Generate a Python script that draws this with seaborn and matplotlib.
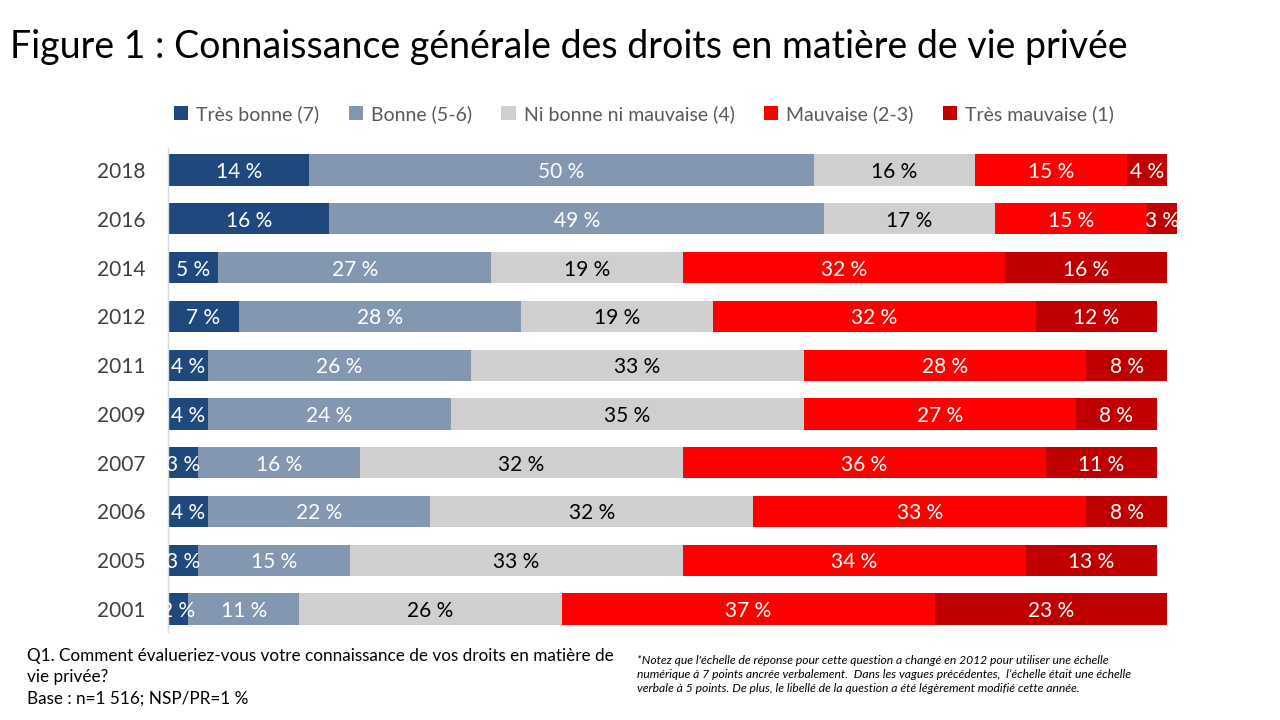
import matplotlib
matplotlib.use('Agg')
import matplotlib.pyplot as plt
import pandas as pd
import seaborn as sns
from matplotlib.patches import Patch

sns.set_style('white')
plt.rcParams['font.family'] = ['Lato', 'DejaVu Sans']

# Data (percent)
years = ['2018', '2016', '2014', '2012', '2011', '2009', '2007', '2006', '2005', '2001']
tres_bonne = [14, 16, 5, 7, 4, 4, 3, 4, 3, 2]
bonne = [50, 49, 27, 28, 26, 24, 16, 22, 15, 11]
ni_bonne = [16, 17, 19, 19, 33, 35, 32, 32, 33, 26]
mauvaise = [15, 15, 32, 32, 28, 27, 36, 33, 34, 37]
tres_mauvaise = [4, 3, 16, 12, 8, 8, 11, 8, 13, 23]

categories = ['Très bonne (7)', 'Bonne (5-6)', 'Ni bonne ni mauvaise (4)',
              'Mauvaise (2-3)', 'Très mauvaise (1)']
colors = ['#1F497D', '#8497B0', '#D0CECE', '#FF0000', '#C00000']
text_colors = ['white', 'white', 'black', 'white', 'white']

df = pd.DataFrame({'annee': years,
                   categories[0]: tres_bonne,
                   categories[1]: bonne,
                   categories[2]: ni_bonne,
                   categories[3]: mauvaise,
                   categories[4]: tres_mauvaise})
cum = df[categories].cumsum(axis=1)
cum['annee'] = df['annee']

fig = plt.figure(figsize=(12.8, 7.2), dpi=100)
ax = fig.add_axes([168 / 1280, 1 - 632 / 720, 1009 / 1280, 484 / 720])

# stacked look: draw cumulative totals from largest to smallest
for cat, col in reversed(list(zip(categories, colors))):
    sns.barplot(data=cum, x=cat, y='annee', order=years, color=col,
                saturation=1, width=0.64, linewidth=0, orient='h', ax=ax)

# segment labels
for i in range(len(years)):
    for cat, tc in zip(categories, text_colors):
        v = df.loc[i, cat]
        center = cum.loc[i, cat] - v / 2
        ax.text(center, i, f'{v} %', ha='center', va='center_baseline', color=tc,
                fontsize=15, clip_on=True)

ax.set_xlim(0, 100)
ax.set_ylim(9.47, -0.45)
ax.set_xlabel('')
ax.set_ylabel('')
ax.set_xticks([])
ax.tick_params(axis='y', length=0, labelsize=15, labelcolor='#404040', pad=16)
for s in ['top', 'right', 'bottom']:
    ax.spines[s].set_visible(False)
ax.spines['left'].set_color('#D9D9D9')
ax.spines['left'].set_linewidth(1)

handles = [Patch(facecolor=c, edgecolor='none') for c in colors]
fig.legend(handles, categories, loc='center', bbox_to_anchor=(0.503, 1 - 114 / 720),
           ncol=5, frameon=False, fontsize=14, labelcolor='#595959',
           handlelength=0.75, handleheight=0.75, handletextpad=0.4, columnspacing=1.5)

fig.text(10 / 1280, 1 - 47 / 720,
         'Figure 1 : Connaissance générale des droits en matière de vie privée',
         fontsize=27, ha='left', va='center', color='black')

fig.text(27 / 1280, 1 - 648 / 720,
         'Q1. Comment évalueriez-vous votre connaissance de vos droits en matière de\n'
         'vie privée?\nBase : n=1 516; NSP/PR=1 %',
         fontsize=12.3, ha='left', va='top', color='black', linespacing=1.42)

fig.text(637 / 1280, 1 - 655 / 720,
         "*Notez que l'échelle de réponse pour cette question a changé en 2012 pour utiliser une échelle\n"
         "numérique à 7 points ancrée verbalement.  Dans les vagues précédentes,  l’échelle était une échelle\n"
         "verbale à 5 points. De plus, le libellé de la question a été légèrement modifié cette année.",
         fontsize=8.7, style='italic', ha='left', va='top', color='black', linespacing=1.35)

fig.savefig('out.png', dpi=100)
